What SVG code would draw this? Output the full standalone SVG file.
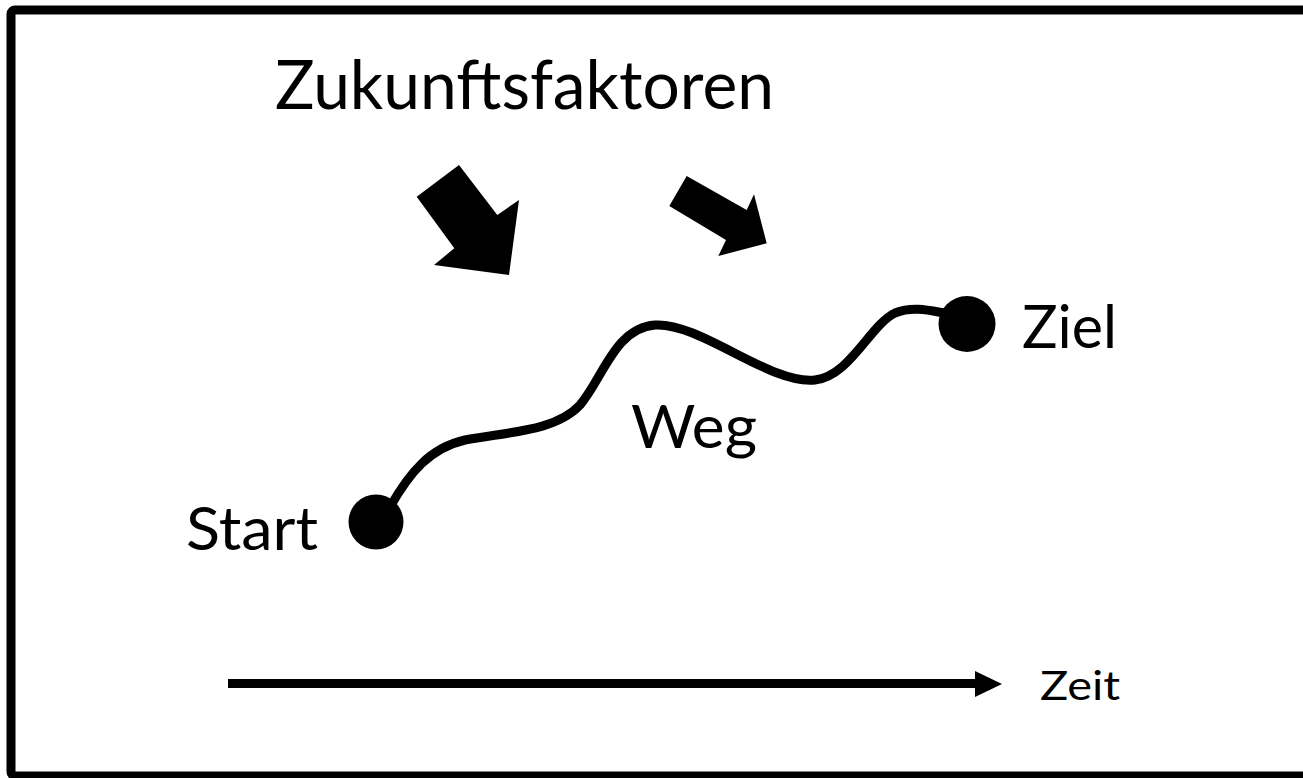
<svg xmlns="http://www.w3.org/2000/svg" width="1303" height="778" viewBox="0 0 1303 778">
<style>
text{font-family:Lato,"Open Sans","Liberation Sans",sans-serif;fill:#000}
.big{font-size:67px}
.lbl{font-size:60px}
.small{font-size:40px}
.conn{fill:none;stroke:#000;stroke-linecap:round}
</style>
<rect x="11" y="10" width="1302" height="766" rx="4" fill="#fff" stroke="#000" stroke-width="9"/>
<g id="title"><text class="big" x="275" y="109" textLength="499" lengthAdjust="spacingAndGlyphs">Zukunftsfaktoren</text></g>
<g id="factor-arrow-1"><polygon points="416.7,196.7 459,165 497.3,215 519,200 509,275 434,265 454.3,248.3" fill="#000"/></g>
<g id="factor-arrow-2"><polygon points="686.7,176 746.7,210 754,194.3 766.7,243.3 718.3,256 726,240 669.3,206" fill="#000"/></g>
<g id="connectors">
<path class="conn" stroke-width="9" d="M390,507 C410,472 430,448 465,440 C505,432 555,432 580,405 C603,378 615,328 655,325 C700,322 770,385 815,380 C850,376 870,325 895,313 C915,305 935,312 950,314"/>
<line x1="228" y1="683.5" x2="978" y2="683.5" stroke="#000" stroke-width="9"/>
<polygon points="975,671 1002,684 975,697" fill="#000"/>
</g>
<g id="start"><circle cx="376" cy="522" r="27.5"/><text class="lbl" x="186" y="550" textLength="132" lengthAdjust="spacingAndGlyphs">Start</text></g>
<g id="ziel"><ellipse cx="967" cy="324" rx="28.5" ry="28"/><text class="lbl" x="1022" y="348" textLength="95" lengthAdjust="spacingAndGlyphs">Ziel</text></g>
<g id="weg"><text class="lbl" x="631" y="448" textLength="126" lengthAdjust="spacingAndGlyphs">Weg</text></g>
<g id="zeit"><text class="small" x="1040" y="700" textLength="80" lengthAdjust="spacingAndGlyphs">Zeit</text></g>
</svg>
